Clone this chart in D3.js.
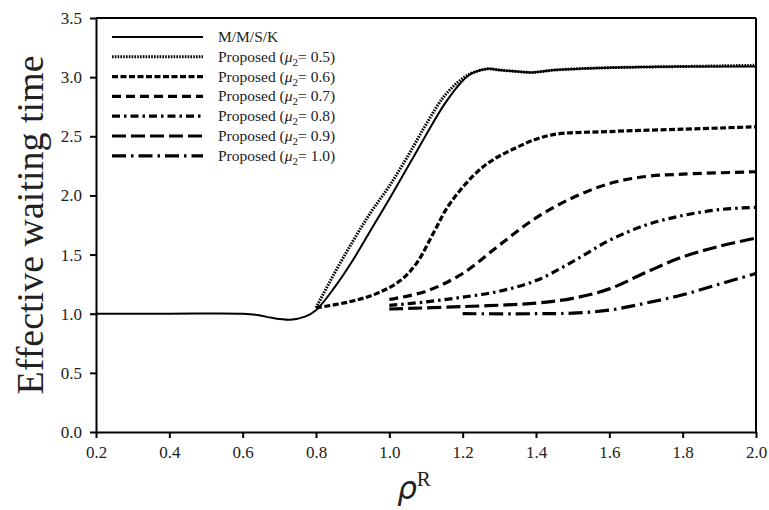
<!DOCTYPE html>
<html>
<head>
<meta charset="utf-8">
<script src="https://cdn.jsdelivr.net/npm/d3@7"></script>
<style>
  body { margin: 0; background: #fff; }
  .axis path, .axis line { stroke: #000; stroke-width: 2px; }
</style>
</head>
<body>
<div id="chart"></div>
<script>
// series names and values
var seriesNames = ["M/M/S/K", "0.5", "0.6", "0.7", "0.8", "0.9", "1.0"];

var mmskX = [0.2, 0.4, 0.6, 0.64, 0.68, 0.73, 0.77, 0.8, 0.85, 0.9, 0.95, 1.0, 1.05, 1.1, 1.15, 1.2, 1.23, 1.27, 1.3, 1.34, 1.39, 1.45, 1.6, 1.8, 2.0];
var mmskY = [1.0, 1.0, 1.0, 0.99, 0.965, 0.95, 0.975, 1.03, 1.22, 1.45, 1.71, 1.97, 2.24, 2.51, 2.77, 2.97, 3.04, 3.07, 3.06, 3.05, 3.04, 3.06, 3.08, 3.09, 3.09];

var mu05X = [0.8, 0.85, 0.9, 0.95, 1.0, 1.05, 1.1, 1.15, 1.2, 1.23, 1.27, 1.3, 1.34, 1.39, 1.45, 1.6, 1.8, 2.0];
var mu05Y = [1.05, 1.34, 1.61, 1.86, 2.08, 2.33, 2.6, 2.84, 2.99, 3.04, 3.07, 3.06, 3.05, 3.04, 3.06, 3.08, 3.09, 3.1];

var mu06X = [0.8, 0.89, 0.965, 1.03, 1.075, 1.12, 1.165, 1.255, 1.35, 1.44, 1.6, 1.8, 2.0];
var mu06Y = [1.05, 1.1, 1.17, 1.28, 1.43, 1.68, 1.93, 2.24, 2.41, 2.51, 2.54, 2.56, 2.58];

var mu07X = [1.0, 1.1, 1.2, 1.3, 1.4, 1.5, 1.6, 1.7, 1.8, 2.0];
var mu07Y = [1.12, 1.19, 1.34, 1.58, 1.81, 1.98, 2.1, 2.16, 2.18, 2.2];

var mu08X = [1.0, 1.1, 1.2, 1.3, 1.4, 1.5, 1.6, 1.7, 1.8, 1.9, 2.0];
var mu08Y = [1.07, 1.1, 1.14, 1.19, 1.28, 1.44, 1.62, 1.75, 1.83, 1.88, 1.9];

var mu09X = [1.0, 1.2, 1.4, 1.5, 1.6, 1.7, 1.8, 1.9, 2.0];
var mu09Y = [1.04, 1.06, 1.09, 1.13, 1.21, 1.35, 1.48, 1.57, 1.64];

var mu10X = [1.2, 1.4, 1.5, 1.6, 1.7, 1.8, 1.9, 2.0];
var mu10Y = [1.0, 1.0, 1.005, 1.03, 1.09, 1.16, 1.25, 1.34];

var xTicks = [0.2, 0.4, 0.6, 0.8, 1.0, 1.2, 1.4, 1.6, 1.8, 2.0];
var yTicks = [0.0, 0.5, 1.0, 1.5, 2.0, 2.5, 3.0, 3.5];

var width = 769;
var height = 510;
var margin = {top: 18, right: 13, bottom: 78, left: 96};
var serif = "'Liberation Serif', 'Times New Roman', serif";

var svg = d3.select("#chart")
  .append("svg")
    .attr("width", width)
    .attr("height", height);

var g = svg.append("g").attr("transform", "translate(" + margin.left + "," + margin.top + ")");

var w = width - margin.left - margin.right;
var h = height - margin.top - margin.bottom;

var x = d3.scaleLinear().domain([0.2, 2.0]).range([0, w]);
var y = d3.scaleLinear().domain([0, 3.5]).range([h, 0]);

// line styles
var styles = [
  {dash: null, sw: 2},
  {dash: "1.6,1.2", sw: 3},
  {dash: "6,2.5", sw: 3.2},
  {dash: "9,5", sw: 3.2},
  {dash: "8,4,2.5,4", sw: 3.2},
  {dash: "14,5", sw: 3.2},
  {dash: "14,5,2.5,5", sw: 3.2}
];

var allX = [mmskX, mu05X, mu06X, mu07X, mu08X, mu09X, mu10X];
var allY = [mmskY, mu05Y, mu06Y, mu07Y, mu08Y, mu09Y, mu10Y];

var line = d3.line()
  .curve(d3.curveCatmullRom.alpha(0.5))
  .x(function(d) { return x(d[0]); })
  .y(function(d) { return y(d[1]); });

// frame top and right
g.append("line").attr("x1", 0).attr("x2", w).attr("y1", 0).attr("y2", 0)
  .attr("stroke", "#000").attr("stroke-width", 2);
g.append("line").attr("x1", w).attr("x2", w).attr("y1", 0).attr("y2", h)
  .attr("stroke", "#000").attr("stroke-width", 2);

// curves
allX.forEach(function(xs, i) {
  var pts = xs.map(function(v, j) { return [v, allY[i][j]]; });
  g.append("path")
    .datum(pts)
    .attr("fill", "none")
    .attr("stroke", "#000")
    .attr("stroke-width", styles[i].sw)
    .attr("stroke-dasharray", styles[i].dash)
    .attr("d", line);
});

// axes
var xAxis = g.append("g")
  .attr("class", "axis")
  .attr("transform", "translate(0," + h + ")")
  .call(d3.axisBottom(x).tickValues(xTicks).tickSize(6).tickSizeOuter(0).tickPadding(8)
    .tickFormat(d3.format(".1f")));

var yAxis = g.append("g")
  .attr("class", "axis")
  .call(d3.axisLeft(y).tickValues(yTicks).tickSize(6).tickSizeOuter(0).tickPadding(8)
    .tickFormat(d3.format(".1f")));

[xAxis, yAxis].forEach(function(a) {
  a.attr("font-family", serif).attr("font-size", 17);
  a.selectAll("text")
    .style("font-family", serif)
    .style("font-size", "17px")
    .style("fill", "#222");
});

// legend
var legend = g.append("g").attr("transform", "translate(16,19)");
seriesNames.forEach(function(name, i) {
  var row = legend.append("g").attr("transform", "translate(0," + (i * 19.8) + ")");
  row.append("line")
    .attr("x1", 0).attr("x2", 91).attr("y1", 0).attr("y2", 0)
    .attr("stroke", "#000")
    .attr("stroke-width", styles[i].sw)
    .attr("stroke-dasharray", styles[i].dash);
  var t = row.append("text")
    .attr("x", 106).attr("y", 5)
    .style("font-family", serif)
    .style("font-size", "15.5px")
    .style("fill", "#222");
  if (i === 0) {
    t.text(name);
  } else {
    t.append("tspan").text("Proposed (");
    t.append("tspan").style("font-style", "italic").text("\u03bc");
    t.append("tspan").attr("dy", 4).style("font-size", "11px").text("2");
    t.append("tspan").attr("dy", -4).text("= " + name + ")");
  }
});

// y axis title
svg.append("text")
  .attr("transform", "translate(43," + (margin.top + h / 2) + ") rotate(-90)")
  .attr("text-anchor", "middle")
  .style("font-family", serif)
  .style("font-size", "38px")
  .style("fill", "#222")
  .text("Effective waiting time");

// x axis title
var xt = svg.append("text")
  .attr("x", margin.left + w / 2 - 12)
  .attr("y", 499)
  .attr("text-anchor", "middle")
  .style("fill", "#222");
xt.append("tspan")
  .style("font-family", "'DejaVu Sans', sans-serif")
  .style("font-style", "italic")
  .style("font-size", "31px")
  .text("\u03c1");
xt.append("tspan")
  .attr("dy", -13)
  .style("font-family", serif)
  .style("font-size", "21px")
  .text("R");
</script>
</body>
</html>
